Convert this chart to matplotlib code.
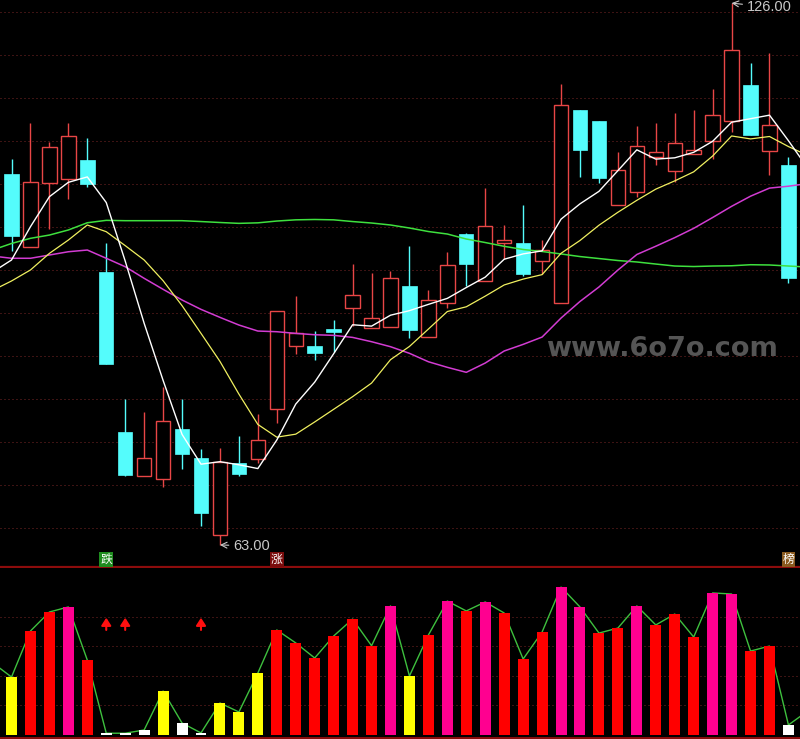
import matplotlib
matplotlib.use('Agg')
import matplotlib.pyplot as plt
from matplotlib.patches import Rectangle
import numpy as np

# ---------------- data ----------------
opens = [106.13, 97.67, 105.12, 105.58, 107.76, 94.73, 76.13, 71.05, 70.63, 76.48,
         73.10, 64.12, 72.52, 73.02, 78.86, 86.09, 86.13, 88.10, 90.51, 88.19,
         88.37, 93.10, 87.14, 91.09, 99.15, 93.65, 98.07, 98.10, 95.98, 91.09,
         113.57, 112.29, 102.56, 104.07, 108.07, 106.51, 108.49, 109.93, 112.26, 116.48,
         108.84, 107.17]
closes = [98.95, 105.16, 109.27, 110.55, 105.00, 84.07, 71.16, 73.07, 77.37, 73.60,
          66.74, 72.60, 71.28, 75.16, 90.20, 87.64, 85.35, 87.79, 92.02, 89.38,
          94.00, 88.02, 91.44, 95.51, 95.70, 100.05, 98.42, 94.53, 97.26, 114.12,
          108.95, 105.70, 106.56, 109.38, 108.69, 109.70, 108.92, 112.95, 120.51, 110.70,
          111.79, 94.03]
highs = [107.87, 112.06, 109.85, 112.06, 110.31, 98.07, 79.93, 78.45, 81.33, 79.93,
         74.15, 74.23, 75.66, 78.22, 90.20, 91.94, 87.87, 89.15, 95.66, 94.62,
         94.85, 97.76, 92.64, 97.06, 99.30, 104.50, 100.20, 102.52, 98.45, 116.59,
         113.57, 112.29, 108.69, 111.71, 112.06, 113.22, 113.57, 116.01, 126.00, 119.03,
         120.23, 108.14]
lows = [97.21, 97.67, 99.77, 103.22, 104.65, 84.07, 71.05, 71.05, 69.70, 71.86,
        65.23, 63.00, 71.05, 72.49, 77.21, 85.23, 84.47, 85.43, 88.49, 88.19,
        88.34, 87.09, 87.14, 90.58, 93.10, 93.65, 96.24, 94.30, 94.50, 91.09,
        105.81, 105.12, 102.56, 103.49, 107.14, 105.23, 108.49, 107.87, 110.98, 110.70,
        106.05, 93.45]

# moving averages, index -1 .. 42 (the view clips one bar on each side)
ma_index = list(range(-1, 43))
ma5 = [94.72, 96.13, 100.00, 103.49, 105.16, 105.79, 102.81, 96.01, 88.77, 82.13,
       75.85, 72.39, 72.68, 72.32, 71.88, 75.20, 79.38, 81.93, 85.23, 88.60,
       88.44, 89.71, 90.24, 90.97, 91.67, 92.93, 94.14, 96.22, 96.84, 97.19,
       100.88, 102.66, 104.11, 106.52, 108.94, 107.86, 108.01, 108.65, 109.93, 112.15,
       112.56, 112.97, 110.00, 106.87]
ma10 = [92.59, 93.69, 94.97, 96.90, 98.45, 100.20, 99.42, 97.80, 96.13, 93.72,
        90.82, 87.60, 84.34, 80.54, 77.01, 75.53, 75.88, 77.30, 78.77, 80.24,
        81.82, 84.54, 86.08, 88.10, 90.14, 90.69, 91.93, 93.23, 93.91, 94.43,
        96.91, 98.40, 100.17, 101.68, 103.07, 104.37, 105.33, 106.38, 108.22, 110.55,
        110.21, 110.49, 109.32, 108.30]
ma20 = [96.59, 96.33, 96.33, 96.71, 97.09, 97.29, 96.33, 95.35, 94.00, 92.72,
        91.48, 90.39, 89.46, 88.57, 87.87, 87.79, 87.60, 87.44, 87.37, 87.13,
        86.63, 86.05, 85.28, 84.30, 83.65, 83.07, 84.15, 85.55, 86.32, 87.17,
        89.38, 91.31, 92.99, 94.96, 96.77, 97.73, 98.73, 99.81, 101.07, 102.37,
        103.55, 104.49, 104.71, 105.01]
ma60 = [97.29, 98.05, 98.65, 99.03, 99.62, 100.46, 100.74, 100.70, 100.70, 100.70,
        100.70, 100.60, 100.49, 100.39, 100.45, 100.66, 100.80, 100.84, 100.80, 100.60,
        100.43, 100.20, 99.85, 99.44, 99.15, 98.57, 98.16, 97.72, 97.35, 97.12,
        96.83, 96.53, 96.30, 96.07, 95.90, 95.66, 95.43, 95.37, 95.43, 95.46,
        95.58, 95.55, 95.43, 95.31]

# lower indicator
ind_values = [39.1, 70.3, 83.2, 86.6, 50.6, 1.0, 1.0, 3.2, 29.6, 7.9,
              1.2, 21.5, 15.4, 41.8, 71.0, 62.2, 52.0, 66.9, 78.4, 60.3,
              87.3, 39.8, 67.6, 90.6, 83.9, 90.0, 82.5, 51.3, 69.6, 100.1,
              86.6, 68.9, 72.3, 87.3, 74.4, 81.8, 66.2, 96.1, 95.4, 56.7,
              60.1, 6.6]
ind_before = 48.8
ind_after = 15.9
arrow_idx = [5, 6, 10]
arrow_from, arrow_to = 71.0, 79.3

signal_labels = [(5, '跌', '#1f8c1f'), (14, '涨', '#7a0c0c'), (41, '榜', '#8a5a1e')]

price_grid = list(range(65, 126, 5))
ind_grid = [20, 40, 60, 80]

# ---------------- style ----------------
RED = '#e84646'
CYAN = '#54fcfc'
GRID = '#7a2626'
SEP = '#8c0c0c'

W, H = 800, 739
fig = plt.figure(figsize=(W / 100, H / 100), dpi=100, facecolor='black')

main_bot = 566.7
ax = fig.add_axes([0, 1 - main_bot / H, 1, main_bot / H])
axb = fig.add_axes([0, 1 - 737.5 / H, 1, (737.5 - 567.5) / H])

for a in (ax, axb):
    a.set_facecolor('black')
    a.set_xticks([])
    a.set_yticks([])
    for s in a.spines.values():
        s.set_visible(False)
    a.set_xlim(-0.607, 41.61)

ax.set_ylim(60.47, 126.36)
axb.set_ylim(-1.90, 113.36)

ax.spines['bottom'].set_visible(True)
ax.spines['bottom'].set_color(SEP)
ax.spines['bottom'].set_linewidth(1.6)
axb.spines['bottom'].set_visible(True)
axb.spines['bottom'].set_color(SEP)
axb.spines['bottom'].set_linewidth(1.4)

for p in price_grid:
    ax.axhline(p, color=GRID, lw=0.72, ls=(0, (1, 3)), zorder=0)
for v in ind_grid:
    axb.axhline(v, color=GRID, lw=0.72, ls=(0, (1, 3)), zorder=0)

# ---------------- candles ----------------
bw = 0.76
for i, (o, h, l, c) in enumerate(zip(opens, highs, lows, closes)):
    if c >= o:
        top, bot = c, o
        if h > top:
            ax.vlines(i, top, h, color=RED, lw=1, zorder=2)
        if l < bot:
            ax.vlines(i, l, bot, color=RED, lw=1, zorder=2)
        ax.add_patch(Rectangle((i - bw / 2, bot), bw, max(top - bot, 0.05),
                               facecolor='black', edgecolor=RED, lw=1, zorder=3))
    else:
        ax.vlines(i, l, h, color=CYAN, lw=1, zorder=2)
        ax.add_patch(Rectangle((i - bw / 2, c), bw, o - c,
                               facecolor=CYAN, edgecolor=CYAN, lw=0.5, zorder=3))

# ---------------- moving averages ----------------
ax.plot(ma_index, ma60, color='#3ee03e', lw=1.1, zorder=4)
ax.plot(ma_index, ma20, color='#d23cd2', lw=1.1, zorder=4)
ax.plot(ma_index, ma10, color='#f0f060', lw=0.9, zorder=5)
ax.plot(ma_index, ma5, color='white', lw=1.0, zorder=6)

# extreme labels
imax = int(np.argmax(highs))
imin = int(np.argmin(lows))
txt_font = ['Liberation Sans Narrow', 'Liberation Sans', 'DejaVu Sans']
ax.annotate(f'{highs[imax]:.2f}', xy=(imax, highs[imax]), xytext=(15, -4),
            textcoords='offset pixels', ha='left', va='center', color='#c8c8c8',
            fontsize=10.5, family=txt_font,
            arrowprops=dict(arrowstyle='->', color='#c8c8c8', lw=0.8, shrinkA=1, shrinkB=0),
            zorder=8)
ax.annotate(f'{lows[imin]:.2f}', xy=(imin, lows[imin]), xytext=(13, -1),
            textcoords='offset pixels', ha='left', va='center', color='#c8c8c8',
            fontsize=10.5, family=txt_font,
            arrowprops=dict(arrowstyle='->', color='#c8c8c8', lw=0.8, shrinkA=1, shrinkB=0),
            zorder=8)

# signal labels
for idx, ch, col in signal_labels:
    ax.text(idx, 0.0125, ch, transform=ax.get_xaxis_transform(), ha='center', va='center',
            color='white', fontsize=8.5, family=['Noto Sans CJK SC', 'DejaVu Sans'],
            bbox=dict(boxstyle='square,pad=0.08', fc=col, ec='none'), zorder=9)

# watermark
fig.text(0.8275, 0.528, 'www.6o7o.com', ha='center', va='center', color='#555555',
         fontsize=19.5, fontweight='bold', family='DejaVu Sans')

# ---------------- indicator panel ----------------
def bar_color(v):
    if v < 10:
        return '#ffffff'
    if v < 45:
        return '#ffff00'
    if v < 85:
        return '#ff0000'
    return '#ff0090'

xs = np.arange(len(ind_values))
axb.plot([-1] + list(xs) + [len(ind_values)], [ind_before] + ind_values + [ind_after],
         color='#3ec03e', lw=1.0, zorder=1)
axb.bar(xs, ind_values, width=0.58, color=[bar_color(v) for v in ind_values], zorder=2)

for i in arrow_idx:
    axb.annotate('', xy=(i, arrow_to), xytext=(i, arrow_from),
                 arrowprops=dict(arrowstyle='-|>,head_width=0.29,head_length=0.45',
                                 color='#ff1010', lw=1.5, mutation_scale=10,
                                 shrinkA=0, shrinkB=0), zorder=3)

fig.savefig('out.png', dpi=100, facecolor='black')
